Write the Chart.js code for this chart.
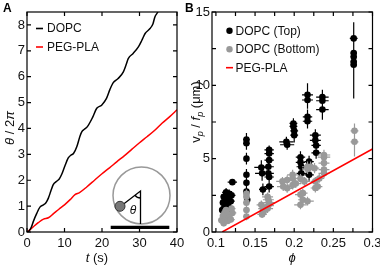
<!DOCTYPE html>
<html>
<head>
<meta charset="utf-8">
<script src="https://cdn.jsdelivr.net/npm/chart.js@4.4.1/dist/chart.umd.min.js"></script>
<style>
  html, body { margin: 0; padding: 0; background: #fff; }
  #wrap { position: relative; width: 380px; height: 266px; overflow: hidden; }
  canvas { position: absolute; top: 0; }
  #chartA { left: 0; }
  #chartB { left: 180px; }
</style>
</head>
<body>
<div id="wrap">
  <canvas id="chartA" width="190" height="266"></canvas>
  <canvas id="chartB" width="200" height="266"></canvas>
</div>
<script>
// ---------- panel A : rotation angle vs time ----------
const dopcT = [0, 0.5, 1.2, 1.7, 2.6, 3.5, 4.4, 5.0, 5.7, 6.4, 7.0, 7.9, 8.6, 9.2, 10.1, 11.0, 11.8, 12.4, 13.3, 14.1, 14.6, 15.3, 16.1, 17.4, 18.6, 19.9, 21.2, 22.1, 23.0, 24.3, 25.7, 26.4, 27.0, 28.3, 29.7, 30.6, 31.5, 32.8, 33.6, 34.1, 34.8, 35.2];
const dopcTheta = [0, 0.03, 0.2, 0.41, 0.72, 0.97, 1.05, 1.12, 1.31, 1.6, 1.83, 1.96, 2.05, 2.21, 2.55, 2.86, 2.98, 3.03, 3.3, 3.69, 3.87, 3.97, 4.07, 4.4, 4.78, 4.9, 5.16, 5.5, 5.77, 5.93, 6.19, 6.45, 6.7, 6.9, 7.15, 7.4, 7.67, 7.86, 8.05, 8.31, 8.48, 8.6];
const pegT = [0, 1, 2, 3, 4.4, 5.7, 7, 8.5, 10, 11.5, 12.8, 14, 16, 18, 20, 22, 24, 26, 28, 30, 32, 34, 36, 38, 40];
const pegTheta = [0, 0.11, 0.24, 0.36, 0.5, 0.55, 0.7, 0.88, 1.05, 1.25, 1.44, 1.52, 1.75, 2.0, 2.25, 2.48, 2.72, 2.95, 3.2, 3.45, 3.68, 3.92, 4.2, 4.45, 4.72];
const tTicks = [0, 10, 20, 30, 40];
const thetaTicks = [0, 1, 2, 3, 4, 5, 6, 7, 8];

// ---------- panel B : v_p / f_p vs phi ----------
const topPhi = [0.108, 0.109, 0.110, 0.111, 0.112, 0.113, 0.114, 0.115, 0.116, 0.117, 0.118, 0.119, 0.120, 0.121,
  0.139, 0.139, 0.139, 0.139, 0.139, 0.139, 0.140, 0.158, 0.159, 0.160,
  0.168, 0.168, 0.168, 0.167, 0.167, 0.168, 0.168, 0.190, 0.191,
  0.199, 0.199, 0.200, 0.200, 0.208, 0.208, 0.209, 0.209,
  0.217, 0.217, 0.217, 0.217, 0.219, 0.219, 0.227, 0.227, 0.228, 0.228,
  0.236, 0.236, 0.236, 0.276, 0.276, 0.276, 0.276, 0.276];
const topV = [1.5, 2.0, 2.4, 1.7, 2.2, 2.7, 1.35, 1.9, 2.35, 2.6, 1.6, 2.1, 2.5, 3.4,
  6.3, 6.05, 5.0, 3.9, 3.35, 2.75, 2.2, 4.4, 4.0, 2.9,
  5.6, 5.35, 4.9, 4.45, 4.0, 3.75, 3.1, 6.15, 5.95,
  7.4, 7.2, 6.9, 6.6, 5.1, 4.75, 4.45, 4.0,
  9.35, 9.0, 7.85, 7.55, 4.8, 3.9, 6.6, 6.25, 5.9, 5.4,
  9.2, 8.95, 8.35, 13.2, 12.2, 11.95, 11.6, 11.4];
const topPhiErr = [0.004, 0.004, 0.004, 0.005, 0.005, 0.005, 0.005, 0.005, 0.005, 0.005, 0.005, 0.005, 0.005, 0.006,
  0.004, 0.004, 0.003, 0.003, 0.003, 0.003, 0.003, 0.009, 0.009, 0.005,
  0.006, 0.006, 0.006, 0.007, 0.007, 0.006, 0.006, 0.009, 0.009,
  0.005, 0.005, 0.005, 0.005, 0.006, 0.006, 0.006, 0.006,
  0.007, 0.007, 0.006, 0.006, 0.006, 0.006, 0.007, 0.007, 0.006, 0.006,
  0.008, 0.008, 0.008, 0.005, 0.004, 0.004, 0.004, 0.004];
const topVErr = [0.25, 0.25, 0.3, 0.25, 0.3, 0.3, 0.25, 0.3, 0.3, 0.3, 0.25, 0.3, 0.3, 0.2,
  0.45, 0.45, 0.4, 0.4, 0.35, 0.35, 0.3, 0.5, 0.5, 0.4,
  0.3, 0.3, 0.3, 0.35, 0.4, 0.4, 0.4, 0.35, 0.35,
  0.35, 0.35, 0.4, 0.5, 0.4, 0.4, 0.4, 0.4,
  0.8, 0.6, 0.5, 0.5, 0.4, 0.4, 0.4, 0.4, 0.4, 0.4,
  0.5, 0.5, 0.7, 1.1, 0.6, 0.6, 0.6, 2.3];

const botPhi = [0.107, 0.109, 0.110, 0.111, 0.112, 0.113, 0.115, 0.116, 0.117, 0.119, 0.120, 0.121,
  0.139, 0.139, 0.139, 0.139, 0.139, 0.158, 0.160, 0.161, 0.159,
  0.166, 0.167, 0.168, 0.167, 0.166, 0.185, 0.186, 0.191, 0.191,
  0.198, 0.198, 0.198, 0.202, 0.208, 0.208, 0.208, 0.211, 0.211, 0.213,
  0.217, 0.217, 0.217, 0.221, 0.226, 0.227, 0.227, 0.230, 0.232,
  0.238, 0.238, 0.238, 0.238, 0.238, 0.277, 0.277];
const botV = [0.8, 1.1, 0.6, 1.3, 0.9, 1.5, 0.75, 1.2, 1.0, 0.85, 1.6, 1.3,
  2.6, 2.4, 2.0, 1.5, 1.05, 1.85, 1.6, 1.4, 1.2,
  2.4, 2.2, 2.0, 1.8, 1.6, 3.45, 3.1, 3.55, 2.98,
  3.9, 3.65, 3.2, 3.3, 3.65, 2.55, 1.85, 2.65, 2.2, 3.45,
  4.45, 4.3, 2.1, 4.45, 4.35, 3.45, 3.0, 3.1, 3.65,
  5.25, 5.1, 4.7, 4.25, 4.0, 6.9, 6.15];
const botPhiErr = [0.004, 0.004, 0.004, 0.004, 0.004, 0.005, 0.005, 0.005, 0.005, 0.005, 0.005, 0.005,
  0.004, 0.004, 0.004, 0.004, 0.004, 0.006, 0.006, 0.006, 0.006,
  0.007, 0.007, 0.007, 0.007, 0.007, 0.008, 0.008, 0.008, 0.008,
  0.007, 0.007, 0.007, 0.007, 0.007, 0.007, 0.008, 0.006, 0.006, 0.007,
  0.007, 0.007, 0.008, 0.006, 0.006, 0.006, 0.006, 0.006, 0.006,
  0.008, 0.008, 0.007, 0.007, 0.007, 0.005, 0.005];
const botVErr = [0.2, 0.2, 0.2, 0.2, 0.2, 0.2, 0.2, 0.2, 0.2, 0.2, 0.25, 0.2,
  0.3, 0.3, 0.3, 0.25, 0.25, 0.3, 0.3, 0.25, 0.25,
  0.3, 0.3, 0.3, 0.3, 0.3, 0.3, 0.3, 0.3, 0.3,
  0.35, 0.35, 0.3, 0.3, 0.3, 0.3, 0.3, 0.3, 0.3, 0.3,
  0.35, 0.35, 0.3, 0.35, 0.35, 0.3, 0.3, 0.3, 0.3,
  0.35, 0.35, 0.35, 0.35, 0.35, 0.5, 1.0];

const pegPhi = [0.108, 0.3];
const pegV = [0, 5.66];
const phiTicks = [0.1, 0.125, 0.15, 0.175, 0.2, 0.225, 0.25, 0.275, 0.3];
const phiLabels = [0.1, 0.15, 0.2, 0.25, 0.3];
const vTicks = [0, 2.5, 5, 7.5, 10, 12.5, 15];
const vLabels = [0, 5, 10, 15];

const FONT = '"Liberation Sans", Arial, sans-serif';
Chart.defaults.font.family = FONT;
Chart.defaults.color = '#111';

const pts = (xs, ys) => xs.map((x, i) => ({ x: x, y: ys[i] }));
const setTicks = arr => s => { s.ticks = arr.map(v => ({ value: v })); };
const onlyLabels = arr => v => arr.some(l => Math.abs(l - v) < 1e-9) ? String(v) : '';

function drawRich(ctx, parts, x, y, rot) {
  ctx.save();
  ctx.translate(x, y);
  if (rot) ctx.rotate(rot);
  ctx.fillStyle = '#111';
  ctx.textBaseline = 'alphabetic';
  let w = 0;
  parts.forEach(p => { ctx.font = p.f; w += ctx.measureText(p.t).width; });
  let cx = -w / 2;
  parts.forEach(p => {
    ctx.font = p.f;
    ctx.fillText(p.t, cx, p.dy || 0);
    cx += ctx.measureText(p.t).width;
  });
  ctx.restore();
}

// box round the plot with inward ticks on all four sides
const framePlugin = {
  id: 'frame',
  afterDraw(chart) {
    const { ctx, chartArea: a } = chart;
    const x = chart.scales.x, y = chart.scales.y;
    const L = 4;
    ctx.save();
    ctx.strokeStyle = '#000';
    ctx.lineWidth = 1.2;
    ctx.beginPath();
    x.ticks.forEach(t => {
      const px = x.getPixelForValue(t.value);
      ctx.moveTo(px, a.bottom); ctx.lineTo(px, a.bottom - L);
      ctx.moveTo(px, a.top); ctx.lineTo(px, a.top + L);
    });
    y.ticks.forEach(t => {
      const py = y.getPixelForValue(t.value);
      ctx.moveTo(a.left, py); ctx.lineTo(a.left + L, py);
      ctx.moveTo(a.right, py); ctx.lineTo(a.right - L, py);
    });
    ctx.stroke();
    ctx.strokeRect(a.left, a.top, a.right - a.left, a.bottom - a.top);
    ctx.restore();
  }
};

// error bars, drawn just under each series' own points
const errorBarPlugin = {
  id: 'errbars',
  beforeDatasetDraw(chart, args) {
    const ds = chart.data.datasets[args.index];
    if (!ds.errX) return;
    const { ctx, chartArea: a } = chart;
    const x = chart.scales.x, y = chart.scales.y;
    ctx.save();
    ctx.beginPath();
    ctx.rect(a.left, a.top, a.right - a.left, a.bottom - a.top);
    ctx.clip();
    ctx.strokeStyle = ds.backgroundColor;
    ctx.lineWidth = 1.2;
    ctx.beginPath();
    ds.data.forEach((p, i) => {
      const px = x.getPixelForValue(p.x), py = y.getPixelForValue(p.y);
      ctx.moveTo(x.getPixelForValue(p.x - ds.errX[i]), py);
      ctx.lineTo(x.getPixelForValue(p.x + ds.errX[i]), py);
      ctx.moveTo(px, y.getPixelForValue(p.y - ds.errY[i]));
      ctx.lineTo(px, y.getPixelForValue(p.y + ds.errY[i]));
    });
    ctx.stroke();
    ctx.restore();
  }
};

const decoA = {
  id: 'decoA',
  afterDraw(chart) {
    const ctx = chart.ctx;
    ctx.save();
    ctx.fillStyle = '#000';
    ctx.font = 'bold 12px ' + FONT;
    ctx.textBaseline = 'alphabetic';
    ctx.fillText('A', 3, 12);

    // legend
    const items = chart.data.datasets;
    ctx.font = '12px ' + FONT;
    ctx.textBaseline = 'middle';
    items.forEach((ds, i) => {
      const yy = 28.5 + i * 18.5;
      ctx.strokeStyle = ds.borderColor;
      ctx.lineWidth = 1.6;
      ctx.beginPath(); ctx.moveTo(36, yy); ctx.lineTo(43, yy); ctx.stroke();
      ctx.fillStyle = '#111';
      ctx.fillText(ds.label, 47, yy + 0.5);
    });

    // inset sketch
    ctx.strokeStyle = '#999';
    ctx.lineWidth = 1.5;
    ctx.beginPath(); ctx.arc(141.5, 195.5, 28.5, 0, Math.PI * 2); ctx.stroke();
    ctx.strokeStyle = '#000';
    ctx.lineWidth = 1.3;
    ctx.beginPath();
    ctx.moveTo(140.5, 224); ctx.lineTo(140.5, 191); ctx.lineTo(121, 206);
    ctx.stroke();
    ctx.beginPath(); ctx.arc(140.5, 191, 7, Math.PI / 2, 2.49); ctx.stroke();
    ctx.fillStyle = '#777';
    ctx.strokeStyle = '#333';
    ctx.lineWidth = 1;
    ctx.beginPath(); ctx.arc(120, 206.3, 5, 0, Math.PI * 2); ctx.fill(); ctx.stroke();
    ctx.fillStyle = '#111';
    ctx.font = 'italic 12px ' + FONT;
    ctx.textAlign = 'center';
    ctx.fillText('θ', 133, 211);
    ctx.strokeStyle = '#000';
    ctx.lineWidth = 3.2;
    ctx.beginPath(); ctx.moveTo(110.7, 227.4); ctx.lineTo(169.3, 227.4); ctx.stroke();
    ctx.restore();

    drawRich(ctx, [
      { t: 't', f: 'italic 13px ' + FONT },
      { t: ' (s)', f: '13px ' + FONT }
    ], 97, 262);
    drawRich(ctx, [
      { t: 'θ', f: 'italic 13px ' + FONT },
      { t: ' / 2', f: '13px ' + FONT },
      { t: 'π', f: 'italic 13px ' + FONT }
    ], 14, 128, -Math.PI / 2);
  }
};

const decoB = {
  id: 'decoB',
  afterDraw(chart) {
    const ctx = chart.ctx;
    ctx.save();
    ctx.fillStyle = '#000';
    ctx.font = 'bold 12px ' + FONT;
    ctx.textBaseline = 'alphabetic';
    ctx.fillText('B', 5, 12);

    ctx.font = '12px ' + FONT;
    ctx.textBaseline = 'middle';
    const ds = chart.data.datasets;
    // DOPC (Top), DOPC (Bottom): dots; PEG-PLA: line
    [0, 1].forEach(i => {
      const yy = 30.7 + i * 18.5;
      ctx.fillStyle = ds[i].backgroundColor;
      ctx.beginPath(); ctx.arc(49.5, yy, 3.2, 0, Math.PI * 2); ctx.fill();
      ctx.fillStyle = '#111';
      ctx.fillText(ds[i].label, 55.5, yy + 0.5);
    });
    const yr = 67.7;
    ctx.strokeStyle = ds[2].borderColor;
    ctx.lineWidth = 1.6;
    ctx.beginPath(); ctx.moveTo(46, yr); ctx.lineTo(53, yr); ctx.stroke();
    ctx.fillStyle = '#111';
    ctx.fillText(ds[2].label, 55.5, yr + 0.5);
    ctx.restore();

    drawRich(ctx, [{ t: 'ϕ', f: 'italic 13px ' + FONT }], 112, 262);
    drawRich(ctx, [
      { t: 'v', f: '13px ' + FONT },
      { t: 'p', f: 'italic 9px ' + FONT, dy: 3 },
      { t: ' / ', f: '13px ' + FONT },
      { t: 'f', f: 'italic 13px ' + FONT },
      { t: 'p', f: 'italic 9px ' + FONT, dy: 3 },
      { t: ' (μm)', f: '13px ' + FONT }
    ], 19.5, 112, -Math.PI / 2);
  }
};

const tickFont = { size: 13, family: FONT };

new Chart(document.getElementById('chartA'), {
  type: 'line',
  data: {
    datasets: [
      {
        label: 'DOPC',
        data: pts(dopcT, dopcTheta),
        borderColor: '#000',
        borderWidth: 1.5,
        pointRadius: 0,
        cubicInterpolationMode: 'monotone'
      },
      {
        label: 'PEG-PLA',
        data: pts(pegT, pegTheta),
        borderColor: '#ff0000',
        borderWidth: 1.5,
        pointRadius: 0,
        cubicInterpolationMode: 'monotone'
      }
    ]
  },
  options: {
    responsive: false,
    animation: false,
    layout: { padding: { top: 12, right: 13, left: 0, bottom: 0 } },
    plugins: { legend: { display: false }, tooltip: { enabled: false } },
    scales: {
      x: {
        type: 'linear', min: 0, max: 40,
        afterBuildTicks: setTicks(tTicks),
        afterFit: s => { s.height = 34; s.paddingLeft = 0; s.paddingRight = 0; },
        grid: { display: false, drawTicks: false },
        border: { display: false },
        ticks: { font: tickFont, padding: 4, maxRotation: 0, autoSkip: false }
      },
      y: {
        type: 'linear', min: 0, max: 8.5,
        afterBuildTicks: setTicks(thetaTicks),
        afterFit: s => { s.width = 27; s.paddingTop = 0; s.paddingBottom = 0; },
        grid: { display: false, drawTicks: false },
        border: { display: false },
        ticks: { font: tickFont, padding: 2, autoSkip: false }
      }
    }
  },
  plugins: [framePlugin, decoA]
});

new Chart(document.getElementById('chartB'), {
  type: 'scatter',
  data: {
    datasets: [
      {
        label: 'DOPC (Top)',
        data: pts(topPhi, topV),
        errX: topPhiErr,
        errY: topVErr,
        backgroundColor: '#000',
        borderWidth: 0,
        pointRadius: 3.3,
        order: 3
      },
      {
        label: 'DOPC (Bottom)',
        data: pts(botPhi, botV),
        errX: botPhiErr,
        errY: botVErr,
        backgroundColor: '#999',
        borderWidth: 0,
        pointRadius: 3.3,
        order: 2
      },
      {
        label: 'PEG-PLA',
        data: pts(pegPhi, pegV),
        showLine: true,
        borderColor: '#ff0000',
        borderWidth: 1.5,
        pointRadius: 0,
        order: 1
      }
    ]
  },
  options: {
    responsive: false,
    animation: false,
    layout: { padding: { top: 12, right: 7.5, left: 0, bottom: 0 } },
    plugins: { legend: { display: false }, tooltip: { enabled: false } },
    scales: {
      x: {
        type: 'linear', min: 0.095, max: 0.3,
        afterBuildTicks: setTicks(phiTicks),
        afterFit: s => { s.height = 34; s.paddingLeft = 0; s.paddingRight = 0; },
        grid: { display: false, drawTicks: false },
        border: { display: false },
        ticks: { font: tickFont, padding: 4, maxRotation: 0, autoSkip: false, callback: onlyLabels(phiLabels) }
      },
      y: {
        type: 'linear', min: 0, max: 15,
        afterBuildTicks: setTicks(vTicks),
        afterFit: s => { s.width = 32; s.paddingTop = 0; s.paddingBottom = 0; },
        grid: { display: false, drawTicks: false },
        border: { display: false },
        ticks: { font: tickFont, padding: 2, autoSkip: false, callback: onlyLabels(vLabels) }
      }
    }
  },
  plugins: [framePlugin, errorBarPlugin, decoB]
});
</script>
</body>
</html>
